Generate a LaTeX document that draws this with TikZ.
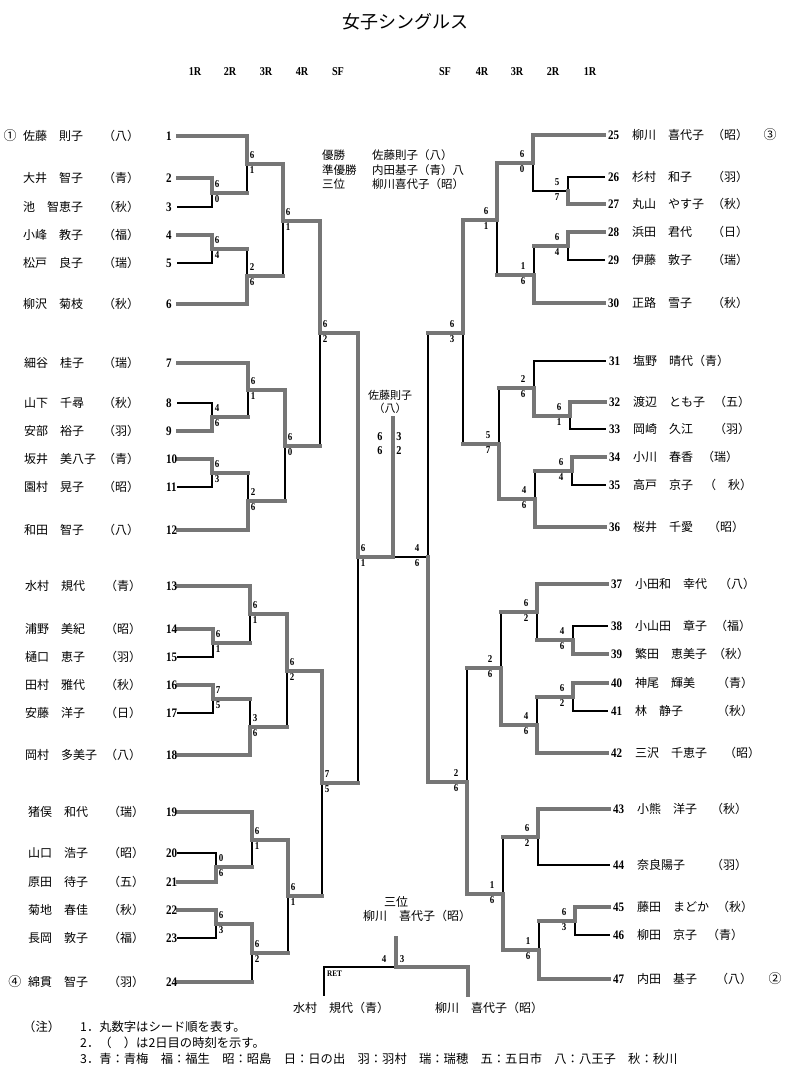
\documentclass[tikz,border=0pt]{standalone}
\usepackage{fontspec}
\newfontfamily\jp{Noto Sans CJK JP}
\newfontfamily\numf{Liberation Serif}[FakeStretch=0.85]
\definecolor{wgray}{HTML}{767676}
\pgfdeclarelayer{bgl}
\pgfdeclarelayer{layerL}
\pgfdeclarelayer{layerW}
\pgfsetlayers{bgl,layerL,layerW,main}
\tikzset{
  W/.style={draw=wgray,line width=4.5pt,line cap=rect},
  L/.style={draw=black,line width=1.4pt,line cap=rect},
  nm/.style={font=\jp\fontsize{12}{14}\selectfont,anchor=west,inner sep=0pt},
  pf/.style={font=\jp\fontsize{12}{14}\selectfont,inner sep=0pt},
  cn/.style={font=\jp\fontsize{13}{14}\selectfont,inner sep=0pt},
  nb/.style={font=\numf\bfseries\fontsize{13}{14}\selectfont,anchor=west,inner sep=0pt},
  sc/.style={font=\numf\bfseries\fontsize{10.5}{12}\selectfont,inner sep=0pt},
  hd/.style={font=\numf\bfseries\fontsize{12}{14}\selectfont,inner sep=0pt},
  tx/.style={font=\jp\fontsize{11.5}{14}\selectfont,anchor=west,inner sep=0pt},
  nt/.style={font=\jp\fontsize{12.3}{14}\selectfont,anchor=west,inner sep=0pt},
}
\newcommand\bseg[3]{\begin{pgfonlayer}{layer#1}\draw[#1] (#2) -- (#3);\end{pgfonlayer}}
\newcommand\barm[4]{\bseg{#3}{#1}{#1 -| #2}\bseg{#4}{#1 -| #2}{#2}}
\newcommand\scl[3]{\node[sc] (#1sa) at ([shift={(5,-8.5)}]#1) {#2};\node[sc] (#1sb) at ([shift={(5,6)}]#1) {#3};}
\newcommand\scr[3]{\node[sc] (#1sa) at ([shift={(-11,-8.5)}]#1) {#2};\node[sc] (#1sb) at ([shift={(-11,6)}]#1) {#3};}
\newcommand\LP[6]{\coordinate (p#1) at (178,#2);
 \node[nb] (n#1) at (166,#2) {#1};
 \node[nm] (nm#1) at (#5,#2) {#3};
 \node[pf] (pf#1) at (#6,#2) {#4};}
\newcommand\RP[7]{\coordinate (p#1) at (#5,#2);
 \node[nb] (n#1) at (#5+4,#2) {#1};
 \node[nm] (nm#1) at (#6,#2) {#3};
 \node[pf] (pf#1) at (#7,#2) {#4};}
\begin{document}
\begin{tikzpicture}[x=1pt,y=-1pt]
\useasboundingbox (0,0) rectangle (804,1080);
\begin{pgfonlayer}{bgl}
\fill[white] (0,0) rectangle (804,1080);
\end{pgfonlayer}

% title and headers
\node[font=\jp\fontsize{18}{20}\selectfont,inner sep=0pt] (title) at (405,22) {女子シングルス};
\node[hd] (h1) at (195,72) {1R};
\node[hd] (h2) at (230,72) {2R};
\node[hd] (h3) at (266,72) {3R};
\node[hd] (h4) at (302,72) {4R};
\node[hd] (h5) at (338,72) {SF};
\node[hd] (h6) at (445,72) {SF};
\node[hd] (h7) at (482,72) {4R};
\node[hd] (h8) at (517,72) {3R};
\node[hd] (h9) at (553,72) {2R};
\node[hd] (h10) at (590,72) {1R};

% left players
\LP{1}{136}{佐藤　則子}{（八）}{23}{121}
\LP{2}{178}{大井　智子}{（青）}{23}{121}
\LP{3}{207}{池　智恵子}{（秋）}{23}{121}
\LP{4}{235}{小峰　教子}{（福）}{23}{121}
\LP{5}{263}{松戸　良子}{（瑞）}{23}{121}
\LP{6}{304}{柳沢　菊枝}{（秋）}{23}{121}
\LP{7}{363}{細谷　桂子}{（瑞）}{24}{121}
\LP{8}{403}{山下　千尋}{（秋）}{24}{121}
\LP{9}{431}{安部　裕子}{（羽）}{24}{121}
\LP{10}{459}{坂井　美八子}{（青）}{24}{121}
\LP{11}{487}{園村　晃子}{（昭）}{24}{121}
\LP{12}{530}{和田　智子}{（八）}{24}{121}
\LP{13}{586}{水村　規代}{（青）}{25}{123}
\LP{14}{629}{浦野　美紀}{（昭）}{25}{123}
\LP{15}{657}{樋口　恵子}{（羽）}{25}{123}
\LP{16}{685}{田村　雅代}{（秋）}{25}{123}
\LP{17}{713}{安藤　洋子}{（日）}{25}{123}
\LP{18}{755}{岡村　多美子}{（八）}{25}{123}
\LP{19}{812}{猪俣　和代}{（瑞）}{28}{126}
\LP{20}{853}{山口　浩子}{（昭）}{28}{126}
\LP{21}{882}{原田　待子}{（五）}{28}{126}
\LP{22}{910}{菊地　春佳}{（秋）}{28}{126}
\LP{23}{938}{長岡　敦子}{（福）}{28}{126}
\LP{24}{982}{綿貫　智子}{（羽）}{28}{126}
\node[cn] (seed1) at (10,136) {①};
\node[cn] (seed4) at (15,982) {④};

% right players
\RP{25}{135}{柳川　喜代子}{（昭）}{604}{632}{730}
\RP{26}{177}{杉村　和子}{（羽）}{604}{632}{730}
\RP{27}{204}{丸山　やす子}{（秋）}{604}{632}{730}
\RP{28}{232}{浜田　君代}{（日）}{604}{632}{730}
\RP{29}{260}{伊藤　敦子}{（瑞）}{604}{632}{730}
\RP{30}{303}{正路　雪子}{（秋）}{604}{632}{730}
\RP{31}{361}{塩野　晴代}{（青）}{605}{633}{711}
\RP{32}{402}{渡辺　とも子}{（五）}{605}{633}{732}
\RP{33}{429}{岡崎　久江}{（羽）}{605}{633}{732}
\RP{34}{457}{小川　春香}{（瑞）}{605}{633}{720}
\RP{35}{485}{高戸　京子}{（　秋）}{605}{633}{728}
\RP{36}{527}{桜井　千愛}{（昭）}{605}{633}{726}
\RP{37}{584}{小田和　幸代}{（八）}{607}{635}{737}
\RP{38}{626}{小山田　章子}{（福）}{607}{635}{733}
\RP{39}{654}{繁田　恵美子}{（秋）}{607}{635}{731}
\RP{40}{683}{神尾　輝美}{（青）}{607}{635}{735}
\RP{41}{711}{林　静子}{（秋）}{607}{635}{735}
\RP{42}{753}{三沢　千恵子}{（昭）}{607}{635}{742}
\RP{43}{809}{小熊　洋子}{（秋）}{609}{637}{729}
\RP{44}{865}{奈良陽子}{（羽）}{609}{637}{729}
\RP{45}{907}{藤田　まどか}{（秋）}{609}{637}{735}
\RP{46}{935}{柳田　京子}{（青）}{609}{637}{725}
\RP{47}{979}{内田　基子}{（八）}{609}{637}{734}
\node[cn] (seed3) at (770,135) {③};
\node[cn] (seed2) at (775,979) {②};

% left junctions
\coordinate (a23) at (212,193);
\coordinate (a1) at (247,164);
\coordinate (a45) at (212,249);
\coordinate (a6) at (247,276);
\coordinate (aA) at (283,221);
\coordinate (a89) at (212,417);
\coordinate (a7) at (248,390);
\coordinate (a1011) at (212,473);
\coordinate (a12) at (248,501);
\coordinate (aB) at (285,446);
\coordinate (aAB) at (320,333);
\coordinate (a1415) at (213,643);
\coordinate (a13) at (250,614);
\coordinate (a1617) at (213,699);
\coordinate (a18) at (250,727);
\coordinate (aC) at (287,671);
\coordinate (a2021) at (216,867);
\coordinate (a19) at (252,840);
\coordinate (a2223) at (216,924);
\coordinate (a24) at (252,953);
\coordinate (aD) at (288,896);
\coordinate (aCD) at (322,783);
\coordinate (sfl) at (358,557);

% right junctions
\coordinate (b2627) at (568,191);
\coordinate (b25) at (533,163);
\coordinate (b2829) at (568,246);
\coordinate (b30) at (534,275);
\coordinate (bE) at (497,220);
\coordinate (b3233) at (570,416);
\coordinate (b31) at (534,388);
\coordinate (b3435) at (572,471);
\coordinate (b36) at (535,499);
\coordinate (bF) at (499,444);
\coordinate (bEF) at (463,333);
\coordinate (b3839) at (573,640);
\coordinate (b37) at (537,612);
\coordinate (b4041) at (573,697);
\coordinate (b42) at (537,725);
\coordinate (bG) at (501,668);
\coordinate (b4344) at (538,837);
\coordinate (b4546) at (575,921);
\coordinate (b47) at (539,950);
\coordinate (bH) at (503,894);
\coordinate (bGH) at (467,782);
\coordinate (sfr) at (428,557);
\coordinate (fin) at (393,557);
\coordinate (fintop) at (393,418);

% left bracket
\barm{p2}{a23}{W}{W} \barm{p3}{a23}{L}{L} \scl{a23}{6}{0}
\barm{p1}{a1}{W}{W} \barm{a23}{a1}{W}{L} \scl{a1}{6}{1}
\barm{p4}{a45}{W}{W} \barm{p5}{a45}{L}{L} \scl{a45}{6}{4}
\barm{a45}{a6}{W}{L} \barm{p6}{a6}{W}{W} \scl{a6}{2}{6}
\barm{a1}{aA}{W}{W} \barm{a6}{aA}{W}{L} \scl{aA}{6}{1}
\barm{p8}{a89}{L}{L} \barm{p9}{a89}{W}{W} \scl{a89}{4}{6}
\barm{p7}{a7}{W}{W} \barm{a89}{a7}{W}{L} \scl{a7}{6}{1}
\barm{p10}{a1011}{W}{W} \barm{p11}{a1011}{L}{L} \scl{a1011}{6}{3}
\barm{a1011}{a12}{W}{L} \barm{p12}{a12}{W}{W} \scl{a12}{2}{6}
\barm{a7}{aB}{W}{W} \barm{a12}{aB}{W}{L} \scl{aB}{6}{0}
\barm{aA}{aAB}{W}{W} \barm{aB}{aAB}{W}{L} \scl{aAB}{6}{2}
\barm{p14}{a1415}{W}{W} \barm{p15}{a1415}{L}{L} \scl{a1415}{6}{1}
\barm{p13}{a13}{W}{W} \barm{a1415}{a13}{W}{L} \scl{a13}{6}{1}
\barm{p16}{a1617}{W}{W} \barm{p17}{a1617}{L}{L} \scl{a1617}{7}{5}
\barm{a1617}{a18}{W}{L} \barm{p18}{a18}{W}{W} \scl{a18}{3}{6}
\barm{a13}{aC}{W}{W} \barm{a18}{aC}{W}{L} \scl{aC}{6}{2}
\barm{p20}{a2021}{L}{L} \barm{p21}{a2021}{W}{W} \scl{a2021}{0}{6}
\barm{p19}{a19}{W}{W} \barm{a2021}{a19}{W}{L} \scl{a19}{6}{1}
\barm{p22}{a2223}{W}{W} \barm{p23}{a2223}{L}{L} \scl{a2223}{6}{3}
\barm{a2223}{a24}{W}{W} \barm{p24}{a24}{W}{L} \scl{a24}{6}{2}
\barm{a19}{aD}{W}{W} \barm{a24}{aD}{W}{L} \scl{aD}{6}{1}
\barm{aC}{aCD}{W}{W} \barm{aD}{aCD}{W}{L} \scl{aCD}{7}{5}
\barm{aAB}{sfl}{W}{W} \barm{aCD}{sfl}{W}{L} \scl{sfl}{6}{1}

% right bracket
\barm{p26}{b2627}{L}{L} \barm{p27}{b2627}{W}{W} \scr{b2627}{5}{7}
\barm{p25}{b25}{W}{W} \barm{b2627}{b25}{L}{L} \scr{b25}{6}{0}
\barm{p28}{b2829}{W}{W} \barm{p29}{b2829}{L}{L} \scr{b2829}{6}{4}
\barm{b2829}{b30}{W}{L} \barm{p30}{b30}{W}{W} \scr{b30}{1}{6}
\barm{b25}{bE}{W}{W} \barm{b30}{bE}{W}{L} \scr{bE}{6}{1}
\barm{p32}{b3233}{W}{W} \barm{p33}{b3233}{L}{L} \scr{b3233}{6}{1}
\barm{p31}{b31}{L}{L} \barm{b3233}{b31}{W}{W} \scr{b31}{2}{6}
\barm{p34}{b3435}{W}{W} \barm{p35}{b3435}{L}{L} \scr{b3435}{6}{4}
\barm{b3435}{b36}{W}{L} \barm{p36}{b36}{W}{W} \scr{b36}{4}{6}
\barm{b31}{bF}{W}{L} \barm{b36}{bF}{W}{W} \scr{bF}{5}{7}
\barm{bE}{bEF}{W}{W} \barm{bF}{bEF}{W}{L} \scr{bEF}{6}{3}
\barm{p38}{b3839}{L}{L} \barm{p39}{b3839}{W}{W} \scr{b3839}{4}{6}
\barm{p37}{b37}{W}{W} \barm{b3839}{b37}{W}{L} \scr{b37}{6}{2}
\barm{p40}{b4041}{W}{W} \barm{p41}{b4041}{L}{L} \scr{b4041}{6}{2}
\barm{b4041}{b42}{W}{L} \barm{p42}{b42}{W}{W} \scr{b42}{4}{6}
\barm{b37}{bG}{W}{L} \barm{b42}{bG}{W}{W} \scr{bG}{2}{6}
\barm{p43}{b4344}{W}{W} \barm{p44}{b4344}{L}{L} \scr{b4344}{6}{2}
\barm{p45}{b4546}{W}{W} \barm{p46}{b4546}{L}{L} \scr{b4546}{6}{3}
\barm{b4546}{b47}{W}{L} \barm{p47}{b47}{W}{W} \scr{b47}{1}{6}
\barm{b4344}{bH}{W}{L} \barm{b47}{bH}{W}{W} \scr{bH}{1}{6}
\barm{bG}{bGH}{W}{L} \barm{bH}{bGH}{W}{W} \scr{bGH}{2}{6}
\barm{bEF}{sfr}{W}{L} \barm{bGH}{sfr}{W}{W} \scr{sfr}{4}{6}

% final
\bseg{W}{sfl}{fin}
\bseg{L}{sfr}{fin}
\bseg{W}{fin}{fintop}
\node[font=\jp\fontsize{11}{12}\selectfont,inner sep=0pt] (champ) at (390,395) {佐藤則子};
\node[font=\jp\fontsize{11}{12}\selectfont,inner sep=0pt] (champp) at (390,408) {（八）};
\node[sc,font=\numf\bfseries\fontsize{12}{12}\selectfont] (f1) at (380,437) {6};
\node[sc,font=\numf\bfseries\fontsize{12}{12}\selectfont] (f2) at (380,451) {6};
\node[sc,font=\numf\bfseries\fontsize{12}{12}\selectfont] (f3) at (399,437) {3};
\node[sc,font=\numf\bfseries\fontsize{12}{12}\selectfont] (f4) at (399,451) {2};

% results box
\node[tx] (r1a) at (322,155) {優勝};
\node[tx] (r1b) at (372,155) {佐藤則子（八）};
\node[tx] (r2a) at (322,170) {準優勝};
\node[tx] (r2b) at (372,170) {内田基子（青）八};
\node[tx] (r3a) at (322,184) {三位};
\node[tx] (r3b) at (372,184) {柳川喜代子（昭）};

% third place match
\coordinate (t3) at (396,967);
\coordinate (t3top) at (396,938);
\coordinate (t3l) at (324,995);
\coordinate (t3r) at (468,995);
\bseg{L}{t3l}{t3l |- t3}
\bseg{L}{t3l |- t3}{t3}
\bseg{W}{t3r}{t3r |- t3}
\bseg{W}{t3r |- t3}{t3}
\bseg{W}{t3}{t3top}
\node[sc] (t3sa) at (384,959) {4};
\node[sc] (t3sb) at (402,959) {3};
\node[font=\numf\bfseries\fontsize{8.5}{9}\selectfont,anchor=west,inner sep=0pt] (ret) at (327,974) {RET};
\node[font=\jp\fontsize{12}{14}\selectfont,inner sep=0pt] (t3title) at (396,902) {三位};
\node[nm] (t3win) at (363,916) {柳川　喜代子（昭）};
\node[nm] (t3ln) at (293,1008) {水村　規代（青）};
\node[nm] (t3rn) at (435,1008) {柳川　喜代子（昭）};

% notes
\node[nt] (note0) at (23,1027) {（注）};
\node[nt] (note1) at (80,1027) {1．丸数字はシード順を表す。};
\node[nt] (note2) at (80,1043) {2．（　）は2日目の時刻を示す。};
\node[nt] (note3) at (80,1059) {3．青：青梅　福：福生　昭：昭島　日：日の出　羽：羽村　瑞：瑞穂　五：五日市　八：八王子　秋：秋川};
\end{tikzpicture}
\end{document}
